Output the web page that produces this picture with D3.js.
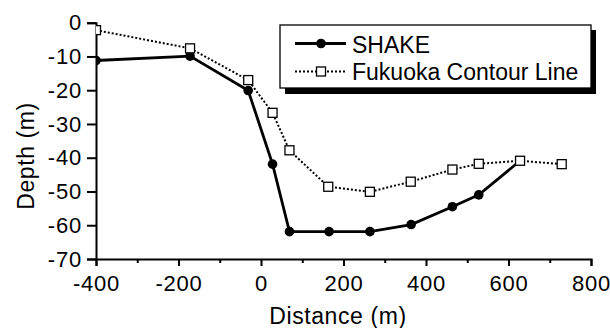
<!DOCTYPE html>
<html><head><meta charset="utf-8">
<script src="https://cdn.jsdelivr.net/npm/d3@7"></script>
<style>
html,body{margin:0;padding:0;background:#fff;}
svg{display:block;}
text{font-family:Arial,"Liberation Sans",sans-serif;fill:#000;}
</style></head>
<body>
<svg id="c" width="610" height="328"></svg>
<script>
const shakeX = [-400, -172, -31, 28, 69, 165, 264, 364, 464, 528, 628];
const shakeY = [-11.2, -9.9, -20.1, -41.9, -61.9, -61.9, -61.9, -59.8, -54.5, -51.0, -40.9];
const fukuX = [-400, -172, -31, 28, 69, 163, 264, 363, 464, 528, 628, 729];
const fukuY = [-2.2, -7.6, -17.0, -26.7, -37.8, -48.6, -50.1, -47.1, -43.5, -41.8, -40.9, -41.9];
const xTicks = [-400, -200, 0, 200, 400, 600, 800];
const xMinor = [-300, -100, 100, 300, 500, 700];
const yTicks = [0, -10, -20, -30, -40, -50, -60, -70];
const seriesNames = ["SHAKE", "Fukuoka Contour Line"];

const svg = d3.select("#c");
const x = d3.scaleLinear().domain([-400, 800]).range([96, 591]);
const y = d3.scaleLinear().domain([-70, 0]).range([259, 22.7]);
const FS = 22;
const fmt = d => String(d);

svg.append("defs").append("clipPath").attr("id", "plot")
  .append("rect").attr("x", x(-400)).attr("y", 0).attr("width", 610 - x(-400)).attr("height", y(-70));

// axes
svg.append("g").attr("transform", `translate(0,${y(-70)})`)
  .call(d3.axisBottom(x).tickValues(xTicks).tickSize(7).tickPadding(9).tickFormat(fmt));
svg.append("g").attr("transform", `translate(0,${y(-70)})`)
  .call(d3.axisBottom(x).tickValues(xMinor).tickSize(4).tickFormat(""))
  .select(".domain").remove();
svg.append("g").attr("transform", `translate(${x(-400)},0)`)
  .call(d3.axisLeft(y).tickValues(yTicks).tickSize(9).tickPadding(5).tickFormat(fmt));
svg.selectAll(".domain").attr("stroke", "#000").attr("stroke-width", 2);
svg.selectAll(".tick line").attr("stroke", "#000").attr("stroke-width", 2);
svg.selectAll(".tick text").attr("font-size", FS).attr("letter-spacing", "0.8px")
  .attr("font-family", "Arial, 'Liberation Sans', sans-serif").attr("fill", "#000");

// axis titles
svg.append("text").attr("x", 338).attr("y", 324).attr("text-anchor", "middle")
  .attr("font-size", 23).attr("letter-spacing", "0.6px").text("Distance (m)");
svg.append("text").attr("transform", `translate(34,156) rotate(-90)`)
  .attr("text-anchor", "middle").attr("font-size", 23).attr("letter-spacing", "0.6px").text("Depth (m)");

// data
const shake = shakeX.map((v, i) => [v, shakeY[i]]);
const fuku = fukuX.map((v, i) => [v, fukuY[i]]);
const line = d3.line().x(d => x(d[0])).y(d => y(d[1]));
const plot = svg.append("g").attr("clip-path", "url(#plot)");

plot.append("path").datum(fuku).attr("d", line).attr("fill", "none")
  .attr("stroke", "#000").attr("stroke-width", 2).attr("stroke-dasharray", "2,2");
plot.append("path").datum(shake).attr("d", line).attr("fill", "none")
  .attr("stroke", "#000").attr("stroke-width", 2.8);
plot.selectAll(".dot").data(shake).join("circle").attr("class", "dot")
  .attr("cx", d => x(d[0])).attr("cy", d => y(d[1])).attr("r", 4.8).attr("fill", "#000");
plot.selectAll(".sq").data(fuku).join("rect").attr("class", "sq")
  .attr("x", d => x(d[0]) - 4.5).attr("y", d => y(d[1]) - 4.5)
  .attr("width", 9).attr("height", 9).attr("fill", "#fff").attr("stroke", "#000").attr("stroke-width", 1.3);

// legend
const lg = svg.append("g");
lg.append("rect").attr("x", 285).attr("y", 30).attr("width", 311).attr("height", 64).attr("fill", "#000");
lg.append("rect").attr("x", 280).attr("y", 25).attr("width", 311).attr("height", 63)
  .attr("fill", "#fff").attr("stroke", "#000").attr("stroke-width", 1.3);
lg.append("line").attr("x1", 295).attr("x2", 346).attr("y1", 43.5).attr("y2", 43.5)
  .attr("stroke", "#000").attr("stroke-width", 2.8);
lg.append("circle").attr("cx", 321).attr("cy", 43.5).attr("r", 4.8).attr("fill", "#000");
lg.append("line").attr("x1", 295).attr("x2", 346).attr("y1", 71.5).attr("y2", 71.5)
  .attr("stroke", "#000").attr("stroke-width", 2).attr("stroke-dasharray", "2,2");
lg.append("rect").attr("x", 316.5).attr("y", 67).attr("width", 9).attr("height", 9)
  .attr("fill", "#fff").attr("stroke", "#000").attr("stroke-width", 1.3);
lg.append("text").attr("x", 352).attr("y", 52.5).attr("font-size", 23).text(seriesNames[0]);
lg.append("text").attr("x", 352).attr("y", 80).attr("font-size", 23).text(seriesNames[1]);
</script>
</body></html>
